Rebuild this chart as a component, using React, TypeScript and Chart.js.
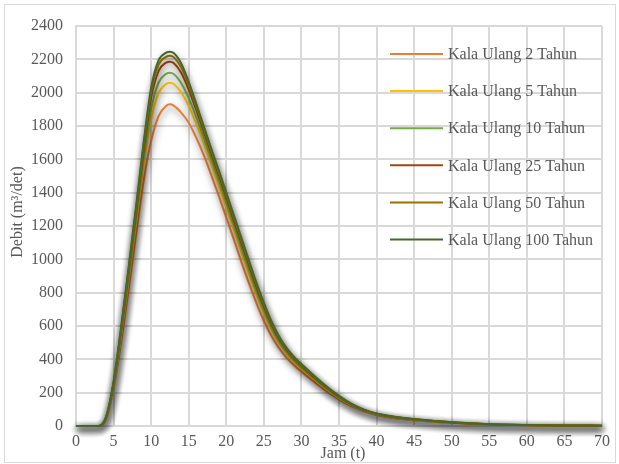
import React, { useEffect, useRef } from "react";
import { Chart, registerables } from "chart.js";

Chart.register(...registerables);

// Time (hours)
const hours = [0, 1, 2, 3, 4, 5, 6, 7, 8, 9, 10, 11, 12, 12.5, 13, 14, 15, 16, 17, 18, 19, 20, 21, 22, 23, 24, 25, 26, 27, 28, 29, 30, 31, 32, 33, 34, 35, 36, 37, 38, 39, 40, 42, 44, 46, 48, 50, 55, 60, 65, 70];

// Discharge (m3/det) per return period
const q2 = [0, 0, 0, 0, 40, 225, 500, 820, 1150, 1470, 1710, 1860, 1922, 1930, 1922, 1880, 1820, 1730, 1625, 1505, 1380, 1250, 1120, 985, 858, 738, 630, 540, 468, 410, 364, 325, 289, 254, 220, 188, 158, 133, 112, 94, 79, 66, 50, 39, 31, 24, 19, 9, 5, 2, 1];
const q5 = [0, 0, 0, 0, 46, 241, 537, 873, 1220, 1564, 1841, 1997, 2052, 2060, 2052, 2001, 1920, 1814, 1697, 1571, 1444, 1312, 1179, 1044, 914, 789, 675, 577, 498, 435, 385, 344, 306, 268, 232, 199, 167, 140, 117, 98, 83, 70, 53, 42, 33, 26, 20, 10, 5, 2, 1];
const q10 = [0, 0, 0, 0, 49, 249, 554, 898, 1252, 1608, 1902, 2061, 2113, 2120, 2112, 2057, 1967, 1853, 1730, 1601, 1473, 1340, 1207, 1072, 940, 812, 696, 594, 511, 446, 395, 353, 314, 275, 238, 204, 172, 144, 120, 100, 84, 71, 55, 43, 35, 27, 21, 10, 6, 3, 1];
const q25 = [0, 0, 0, 0, 52, 257, 573, 925, 1288, 1656, 1969, 2131, 2180, 2186, 2178, 2119, 2018, 1896, 1767, 1635, 1506, 1372, 1237, 1102, 969, 838, 719, 613, 526, 459, 406, 363, 322, 282, 244, 209, 177, 148, 123, 102, 86, 73, 56, 45, 36, 28, 21, 11, 6, 3, 2];
const q50 = [0, 0, 0, 0, 54, 262, 583, 940, 1306, 1682, 2004, 2168, 2215, 2221, 2213, 2151, 2045, 1919, 1786, 1652, 1523, 1388, 1253, 1118, 984, 852, 731, 623, 534, 465, 412, 368, 327, 286, 248, 212, 179, 150, 124, 103, 87, 74, 57, 45, 37, 29, 22, 11, 6, 3, 2];
const q100 = [0, 0, 0, 0, 55, 265, 590, 950, 1320, 1700, 2030, 2195, 2240, 2246, 2238, 2175, 2065, 1935, 1800, 1665, 1535, 1400, 1265, 1130, 995, 862, 740, 630, 540, 470, 416, 372, 330, 289, 250, 214, 181, 151, 125, 104, 88, 75, 58, 46, 37, 29, 22, 11, 6, 3, 2];

const seriesLabels = ["Kala Ulang 2 Tahun", "Kala Ulang 5 Tahun", "Kala Ulang 10 Tahun", "Kala Ulang 25 Tahun", "Kala Ulang 50 Tahun", "Kala Ulang 100 Tahun"];
const seriesColors = ["#ED7D31", "#FFC000", "#70AD47", "#9E480E", "#997300", "#43682B"];

const xAxisTitle = "Jam (t)";
const yAxisTitle = "Debit (m³/det)";
const xMin = 0, xMax = 70, xStep = 5;
const yMin = 0, yMax = 2400, yStep = 200;

const FONT = "'Liberation Serif', 'Times New Roman', serif";
const TEXT = "#595959";
const GRID = "#d9d9d9";

export default function App() {
  const ref = useRef<HTMLCanvasElement>(null);

  useEffect(() => {
    document.body.style.margin = "0";
    const canvas = ref.current!;
    const series = [q2, q5, q10, q25, q50, q100];
    const datasets = series
      .map((s, i) => ({
        label: seriesLabels[i],
        data: hours.map((h, j) => ({ x: h, y: s[j] })),
        borderColor: seriesColors[i],
        backgroundColor: seriesColors[i],
        borderWidth: 2,
        pointRadius: 0,
        cubicInterpolationMode: "monotone" as const,
        fill: false,
        clip: false as any,
      }))
      .reverse();

    const decor = {
      id: "decor",
      beforeDatasetDraw(chart: any) {
        const ctx = chart.ctx;
        ctx.save();
        ctx.shadowColor = "rgba(0,0,0,0.5)";
        ctx.shadowBlur = 7;
        ctx.shadowOffsetX = 1;
        ctx.shadowOffsetY = 3;
      },
      afterDatasetDraw(chart: any) {
        chart.ctx.restore();
      },
      afterDraw(chart: any) {
        const ctx = chart.ctx;
        const area = chart.chartArea;
        ctx.save();
        // outer border
        ctx.strokeStyle = GRID;
        ctx.lineWidth = 1;
        ctx.strokeRect(4.5, 4.5, 611, 458);
        // legend
        ctx.font = `16px ${FONT}`;
        ctx.textBaseline = "middle";
        ctx.textAlign = "left";
        seriesLabels.forEach((lab, i) => {
          const y = 54 + i * 37.1;
          ctx.strokeStyle = seriesColors[i];
          ctx.lineWidth = 2;
          ctx.beginPath();
          ctx.moveTo(390, y);
          ctx.lineTo(443, y);
          ctx.stroke();
          ctx.fillStyle = TEXT;
          ctx.fillText(lab, 448, y + 1);
        });
        // axis titles
        ctx.fillStyle = TEXT;
        ctx.textAlign = "center";
        ctx.fillText(xAxisTitle, (area.left + area.right) / 2 + 4, 454);
        ctx.translate(18, (area.top + area.bottom) / 2 - 14);
        ctx.rotate(-Math.PI / 2);
        ctx.fillText(yAxisTitle, 0, 0);
        ctx.restore();
      },
    };

    const chart = new Chart(canvas, {
      type: "line",
      data: { datasets },
      options: {
        animation: false,
        responsive: false,
        maintainAspectRatio: false,
        layout: { padding: { left: 0, right: 17, top: 26, bottom: 0 } },
        plugins: {
          legend: { display: false },
          tooltip: { enabled: false },
        },
        scales: {
          x: {
            type: "linear",
            min: xMin,
            max: xMax,
            ticks: { stepSize: xStep, color: TEXT, font: { family: FONT, size: 16 }, padding: 6, maxRotation: 0, callback: (v: any) => String(v) },
            grid: { color: GRID, lineWidth: 2, drawTicks: false },
            border: { color: GRID, width: 2 },
            afterFit: (s: any) => { s.height = 38; },
          },
          y: {
            min: yMin,
            max: yMax,
            ticks: { stepSize: yStep, color: TEXT, font: { family: FONT, size: 16 }, padding: 13, callback: (v: any) => String(v) },
            grid: { color: GRID, lineWidth: 2, drawTicks: false },
            border: { color: GRID, width: 2 },
            afterFit: (s: any) => { s.width = 76; },
          },
        },
      },
      plugins: [decor],
    });
    return () => chart.destroy();
  }, []);

  return <canvas ref={ref} width={619} height={464} style={{ display: "block", width: 619, height: 464 }} />;
}
